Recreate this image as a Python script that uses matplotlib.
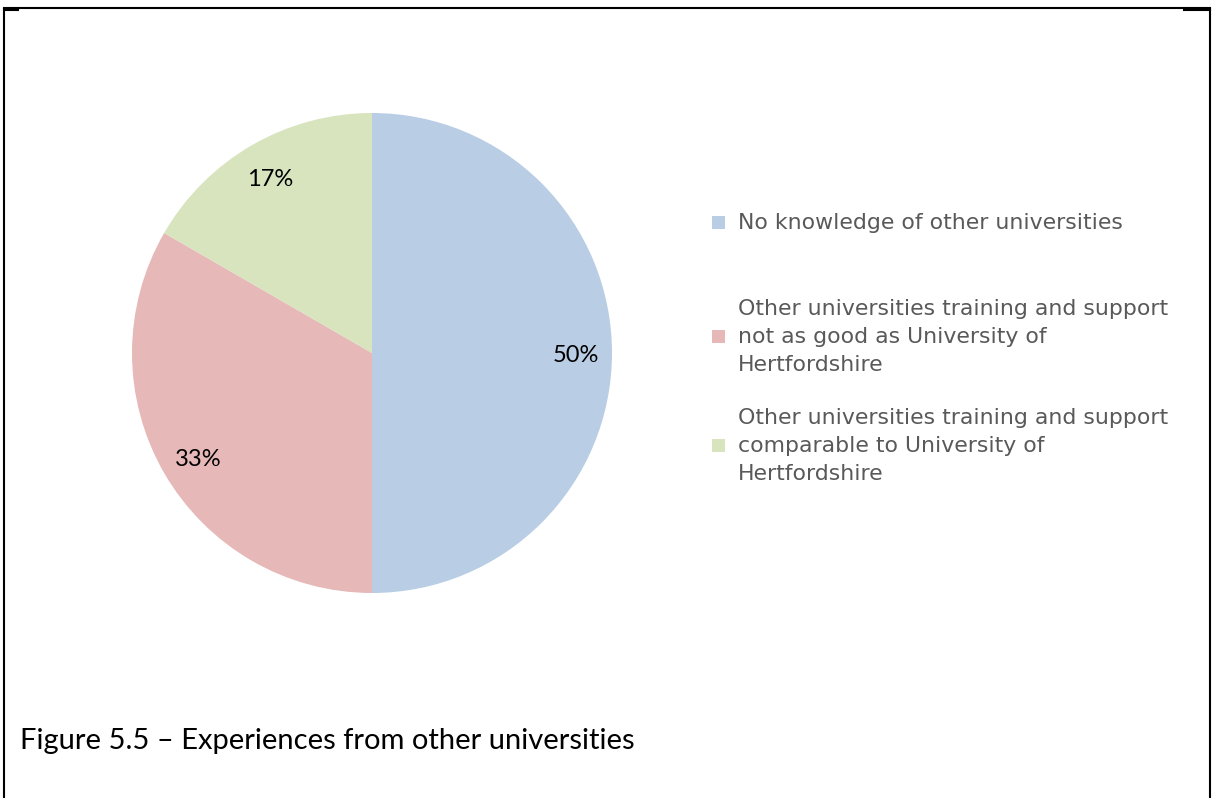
import numpy as np
import matplotlib
matplotlib.use("Agg")
import matplotlib.pyplot as plt
from matplotlib.patches import Rectangle
from matplotlib.lines import Line2D

# data (respondent counts behind the percentages)
labels = ["No knowledge of other universities",
          "Other universities training and support\nnot as good as University of\nHertfordshire",
          "Other universities training and support\ncomparable to University of\nHertfordshire"]
counts = [3, 2, 1]
colors = ["#B9CDE5", "#E6B9B8", "#D7E4BD"]
caption = "Figure 5.5 \u2013 Experiences from other universities"

W, H = 1214, 798
fig = plt.figure(figsize=(W/100, H/100), dpi=100)

# pie axes: center (372,353), radius 240 px
r = 240
cx, cy = 372, 353
ax = fig.add_axes([(cx-r)/W, 1-(cy+r)/H, 2*r/W, 2*r/H])
wedges, _ = ax.pie(counts, colors=colors, startangle=90, counterclock=False,
                   radius=1, wedgeprops=dict(linewidth=0))
ax.set_xlim(-1, 1)
ax.set_ylim(-1, 1)
ax.set_aspect("auto")

# percent labels (approximate excel positions)
pct = [round(100*c/sum(counts)) for c in counts]
lab_pos = [(576, 355), (198, 459), (270, 180)]
for (px, py), p in zip(lab_pos, pct):
    fig.text(px/W, 1-py/H, f"{p}%", ha="center", va="center",
             fontsize=17, family="Lato", color="black")

# legend drawn by hand to keep excel spacing
leg_y = [223, 337, 446]
for lab, c, y in zip(labels, colors, leg_y):
    fig.patches.append(Rectangle((712/W, 1-(y+6)/H), 13/W, 13/H,
                                 transform=fig.transFigure, facecolor=c,
                                 edgecolor="none"))
    fig.text(738/W, 1-y/H, lab, ha="left", va="center", fontsize=15.8,
             family="DejaVu Sans", color="#595959", linespacing=1.5)

# caption
fig.text(20/W, 1-741/H, caption, ha="left", va="center", fontsize=21,
         family="Lato", color="black")

# border lines
k = dict(transform=fig.transFigure, color="black", linewidth=1.5)
fig.add_artist(Line2D([4/W, 1210/W], [1-8/H, 1-8/H], **k))
fig.add_artist(Line2D([4/W, 4/W], [1-9/H, 0], **k))
fig.add_artist(Line2D([1210/W, 1210/W], [1-9/H, 0], **k))
fig.add_artist(Line2D([4/W, 18/W], [1-10/H, 1-10/H], **k))
fig.add_artist(Line2D([1184/W, 1210/W], [1-10/H, 1-10/H], **k))

fig.savefig("out.png", dpi=100)
